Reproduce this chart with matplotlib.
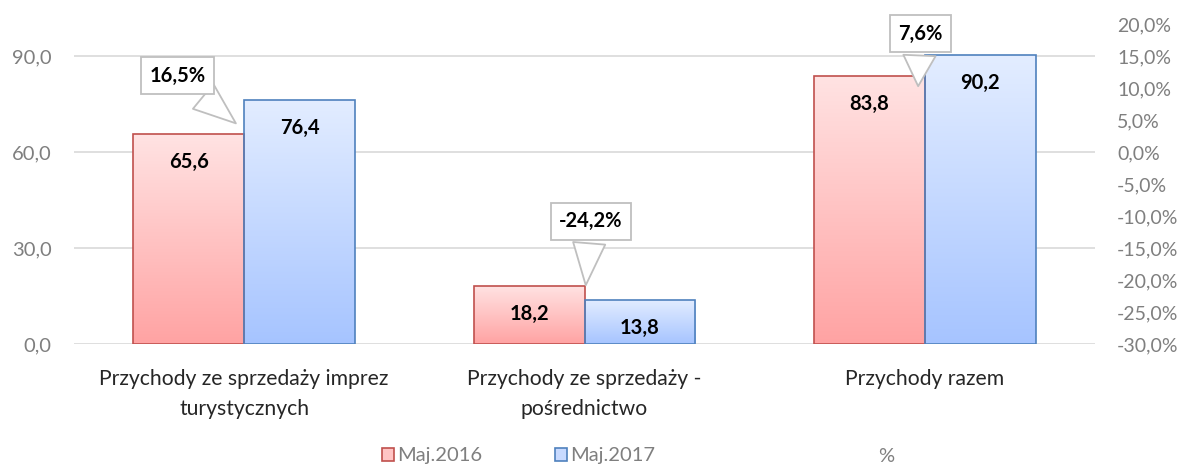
import matplotlib
matplotlib.use("Agg")
import matplotlib.pyplot as plt
import numpy as np
from matplotlib.patches import Patch
from matplotlib.lines import Line2D
from matplotlib.ticker import FuncFormatter
from matplotlib.colors import LinearSegmentedColormap

categories = ["Przychody ze sprzedaży imprez\nturystycznych",
              "Przychody ze sprzedaży -\npośrednictwo",
              "Przychody razem"]
maj2016 = [65.6, 18.2, 83.8]
maj2017 = [76.4, 13.8, 90.2]
pct = [16.5, -24.2, 7.6]
series_names = ["Maj.2016", "Maj.2017", "%"]
left_ticks = [0, 30, 60, 90]
right_ticks = [-30, -25, -20, -15, -10, -5, 0, 5, 10, 15, 20]

plt.rcParams['font.family'] = ['Lato', 'DejaVu Sans']

fig = plt.figure(figsize=(11.86, 4.66), dpi=100)
ax = fig.add_axes([74/1186, 1-344/466, (1095-74)/1186, 320/466])
ax2 = ax.twinx()

x = np.arange(len(categories))
w = 0.326
red_edge = "#C0504D"
blue_edge = "#4F81BD"
bars1 = ax.bar(x - w/2, maj2016, w, facecolor="none", edgecolor=red_edge, linewidth=1.2, zorder=3)
bars2 = ax.bar(x + w/2, maj2017, w, facecolor="none", edgecolor=blue_edge, linewidth=1.2, zorder=3)

red_cmap = LinearSegmentedColormap.from_list("r", ["#FFA3A3", "#FFE3E3"])
blue_cmap = LinearSegmentedColormap.from_list("b", ["#A6C4FF", "#E3EDFF"])
grad = np.linspace(0, 1, 256).reshape(-1, 1)
for bars, cmap in ((bars1, red_cmap), (bars2, blue_cmap)):
    for b in bars:
        x0, y0, bw, bh = b.get_x(), b.get_y(), b.get_width(), b.get_height()
        im = ax.imshow(grad, cmap=cmap, origin="lower", aspect="auto",
                       extent=(x0, x0 + bw, y0, y0 + bh), zorder=2)
        im.set_clip_path(b)

for bars, vals in ((bars1, maj2016), (bars2, maj2017)):
    for b, v in zip(bars, vals):
        ax.annotate(f"{v:.1f}".replace(".", ","), (b.get_x() + b.get_width()/2, v),
                    xytext=(0, -28), textcoords="offset pixels", ha="center", va="center",
                    fontsize=14.5, fontweight="bold", color="black", zorder=5)

ax.set_xlim(-0.5, 2.5)
ax.set_ylim(0, 100)
ax.set_yticks(left_ticks)
ax.yaxis.set_major_formatter(FuncFormatter(lambda v, p: f"{v:.1f}".replace(".", ",")))
ax.grid(axis="y", color="#D9D9D9", linewidth=1.2, zorder=0)
ax.set_axisbelow(True)
ax.set_xticks(x)
ax.set_xticklabels(categories, fontsize=15.2, color="#262626", linespacing=1.6)
ax.tick_params(axis="x", length=0, pad=18)
ax.tick_params(axis="y", length=0, pad=16, labelsize=14.5, labelcolor="#7F7F7F")

ax2.set_ylim(-30, 20)
ax2.set_yticks(right_ticks)
ax2.yaxis.set_major_formatter(FuncFormatter(lambda v, p: f"{v:.1f}%".replace(".", ",")))
ax2.tick_params(axis="y", length=0, pad=16, labelsize=14, labelcolor="#7F7F7F")
pct_line, = ax2.plot(x, pct, linestyle="none")

for a in (ax, ax2):
    for s in a.spines.values():
        s.set_visible(False)

# callouts
box_pos = [(-0.195, 83.9), (1.019, 38.3), (1.987, 97.0)]
tip_pos = [(-0.018, 68.4), (1.003, 17.5), (1.98, 79.7)]
for p, bp, tp in zip(pct, box_pos, tip_pos):
    ax.annotate(f"{p:.1f}%".replace(".", ","), xy=tp, xytext=bp, ha="center", va="center",
                fontsize=14.5, fontweight="bold", color="black", zorder=6, annotation_clip=False,
                bbox=dict(boxstyle="square,pad=0.42", fc="white", ec="#BFBFBF", lw=1.3),
                arrowprops=dict(arrowstyle="wedge,tail_width=1.6,shrink_factor=0.5",
                                fc="white", ec="#BFBFBF", lw=1.3))

h1 = Patch(facecolor="#FFC4C4", edgecolor=red_edge, linewidth=1.2)
h2 = Patch(facecolor="#C8DAFF", edgecolor=blue_edge, linewidth=1.2)
leg1 = fig.legend([h1, h2], series_names[:2], loc="center left", bbox_to_anchor=(382/1186, 1-456/466),
                  ncol=2, frameon=False, fontsize=14.5, labelcolor="#7F7F7F",
                  handlelength=0.6, handleheight=0.6, handletextpad=0.15, columnspacing=3.6,
                  borderaxespad=0, borderpad=0)
leg2 = fig.legend([Line2D([], [], linestyle="none")], series_names[2:], loc="center left",
                  bbox_to_anchor=(838/1186, 1-456/466), frameon=False, fontsize=14.5,
                  labelcolor="#7F7F7F", handlelength=1.5, handletextpad=0.5,
                  borderaxespad=0, borderpad=0)

fig.savefig("out.png", dpi=100)
